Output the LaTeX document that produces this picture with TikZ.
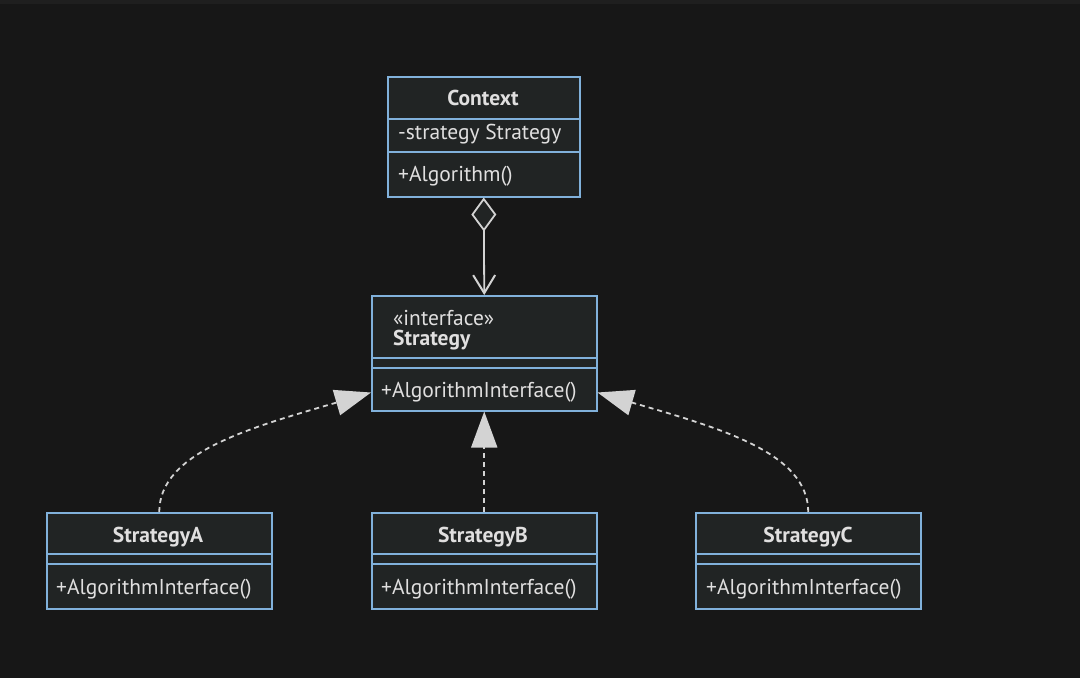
\documentclass[tikz,border=0pt]{standalone}
\usepackage{fontspec}
\setmainfont{PT Sans}
\usetikzlibrary{arrows.meta}
\definecolor{bg}{HTML}{171717}
\definecolor{topbar}{HTML}{1F1F1F}
\definecolor{boxfill}{HTML}{212424}
\definecolor{boxline}{HTML}{81B1DB}
\definecolor{txt}{HTML}{E0DFDF}
\definecolor{arr}{HTML}{D3D3D3}
\newcommand{\fsz}{\fontsize{21.5pt}{24pt}\selectfont}
\tikzset{
  classbox/.style={draw=boxline, fill=boxfill, line width=1.5pt, inner sep=0pt, anchor=north west},
  divider/.style={draw=boxline, line width=1.5pt},
  title/.style={text=txt, font=\fsz\bfseries, anchor=base, inner sep=0pt},
  member/.style={text=txt, font=\fsz, anchor=base west, inner sep=0pt},
  agg/.style={draw=arr, line width=1.8pt, {Diamond[length=34pt,width=25pt,fill=boxfill,line width=1.8pt]}-{Straight Barb[length=18pt,width=22pt,line width=2pt]}},
  real/.style={draw=arr, line width=1.8pt, dash pattern=on 5pt off 4pt, -{Triangle[length=36pt,width=26pt,fill=arr]}},
}
\begin{document}
\begin{tikzpicture}[x=1pt,y=-1pt]
\useasboundingbox (0,0) rectangle (1080,678);
\fill[bg] (0,0) rectangle (1080,678);
\fill[topbar] (0,0) rectangle (1080,4);

% Context
\node[classbox, minimum width=192pt, minimum height=120pt] (ctx) at (387,76) {};
\draw[divider] ([yshift=-43pt]ctx.north west) -- ([yshift=-43pt]ctx.north east);
\draw[divider] ([yshift=-76pt]ctx.north west) -- ([yshift=-76pt]ctx.north east);
\node[title] (ctxT) at (483,105.5) {Context};
\node[member] (ctxA) at (398,139) {-strategy Strategy};
\node[member] (ctxM) at (398,181.5) {+Algorithm()};

% Strategy
\node[classbox, minimum width=225pt, minimum height=115pt] (strat) at (371,295) {};
\draw[divider] ([yshift=-63pt]strat.north west) -- ([yshift=-63pt]strat.north east);
\draw[divider] ([yshift=-73pt]strat.north west) -- ([yshift=-73pt]strat.north east);
\node[member] (stratS) at (393,325) {«interface»};
\node[member, font=\fsz\bfseries] (stratT) at (393,345) {Strategy};
\node[member] (stratM) at (381,397) {+AlgorithmInterface()};

% StrategyA
\node[classbox, minimum width=225pt, minimum height=96pt] (sa) at (46,512) {};
\draw[divider] ([yshift=-42pt]sa.north west) -- ([yshift=-42pt]sa.north east);
\draw[divider] ([yshift=-52pt]sa.north west) -- ([yshift=-52pt]sa.north east);
\node[title] (saT) at (158,542) {StrategyA};
\node[member] (saM) at (56,594) {+AlgorithmInterface()};

% StrategyB
\node[classbox, minimum width=225pt, minimum height=96pt] (sb) at (371,512) {};
\draw[divider] ([yshift=-42pt]sb.north west) -- ([yshift=-42pt]sb.north east);
\draw[divider] ([yshift=-52pt]sb.north west) -- ([yshift=-52pt]sb.north east);
\node[title] (sbT) at (483,542) {StrategyB};
\node[member] (sbM) at (381,594) {+AlgorithmInterface()};

% StrategyC
\node[classbox, minimum width=225pt, minimum height=96pt] (sc) at (695,512) {};
\draw[divider] ([yshift=-42pt]sc.north west) -- ([yshift=-42pt]sc.north east);
\draw[divider] ([yshift=-52pt]sc.north west) -- ([yshift=-52pt]sc.north east);
\node[title] (scT) at (808,542) {StrategyC};
\node[member] (scM) at (706,594) {+AlgorithmInterface()};

% connectors
\draw[agg] (ctx.south) -- (strat.north);
\draw[real] (sa.north) .. controls +(0,-60) and +(-120,35) .. ([yshift=19pt]strat.south west);
\draw[real] (sb.north) -- (strat.south);
\draw[real] (sc.north) .. controls +(0,-60) and +(120,35) .. ([yshift=19pt]strat.south east);
\end{tikzpicture}
\end{document}
